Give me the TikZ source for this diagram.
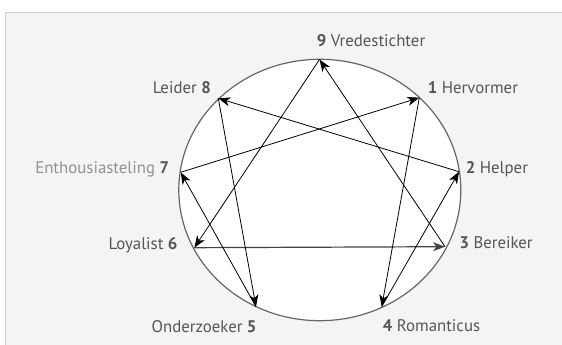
\documentclass[tikz,border=0pt]{standalone}
\usepackage{fontspec}
\setmainfont{PT Sans}
\usetikzlibrary{arrows.meta}
\definecolor{panel}{HTML}{F4F4F4}
\definecolor{panelline}{HTML}{CFCFCF}
\definecolor{ring}{HTML}{666666}
\definecolor{lijn}{HTML}{444444}
\definecolor{txt}{HTML}{555555}
\definecolor{txtlight}{HTML}{929292}
\tikzset{
  lbl/.style={inner sep=0pt, text=txt, font=\fontsize{16.8}{19}\selectfont},
  pijl/.style={->, line width=0.8pt, black},
}
\begin{document}
\begin{tikzpicture}[x=1pt, y=1pt, line join=round, >={Stealth[length=12pt,width=9pt,inset=3.5pt]}]
	\useasboundingbox (0,0) rectangle (562,345);
	\draw[fill=panel, draw=panelline, line width=1pt] (5.3,-2) rectangle (564,332.7);
	\draw[ring, fill=white, line width=1.2pt] (319.8,155) ellipse (141 and 130.7);
	% punten op de cirkel
	\coordinate (n9) at (319.5,285.5);
	\coordinate (n1) at (419.3,247.3);
	\coordinate (n2) at (459,173.3);
	\coordinate (n3) at (445,98.3);
	\coordinate (n4) at (381.7,38.3);
	\coordinate (n5) at (256,38.3);
	\coordinate (n6) at (194.3,97.3);
	\coordinate (n7) at (180.7,172.7);
	\coordinate (n8) at (218.3,246.7);
	% pijlen
	\draw[pijl] (n9) -- (n6);
	\draw[pijl, lijn, line width=1.2pt] (n6) -- (n3);
	\draw[pijl] (n3) -- (n9);
	\draw[pijl] (n1) -- (n4);
	\draw[pijl] (n4) -- (n2);
	\draw[pijl] (n2) -- (n8);
	\draw[pijl] (n8) -- (n5);
	\draw[pijl] (n5) -- (n7);
	\draw[pijl] (n7) -- (n1);
	% labels
	\node[lbl, anchor=base west] (l9) at (316.7,298) {\textbf{9} Vredestichter};
	\node[lbl, anchor=base east] (l8) at (211,251) {Leider \textbf{8}};
	\node[lbl, anchor=base west] (l1) at (427.7,251) {\textbf{1} Hervormer};
	\node[lbl, anchor=base east] (l7) at (169.3,171.7) {\textcolor{txtlight}{Enthousiasteling} \textbf{7}};
	\node[lbl, anchor=base west] (l2) at (465.7,171) {\textbf{2} Helper};
	\node[lbl, anchor=base east] (l6) at (177.7,95.7) {Loyalist \textbf{6}};
	\node[lbl, anchor=base west] (l3) at (459.3,96) {\textbf{3} Bereiker};
	\node[lbl, anchor=base east] (l5) at (256.7,12.7) {Onderzoeker \textbf{5}};
	\node[lbl, anchor=base west] (l4) at (382.7,13.3) {\textbf{4} Romanticus};
\end{tikzpicture}
\end{document}
